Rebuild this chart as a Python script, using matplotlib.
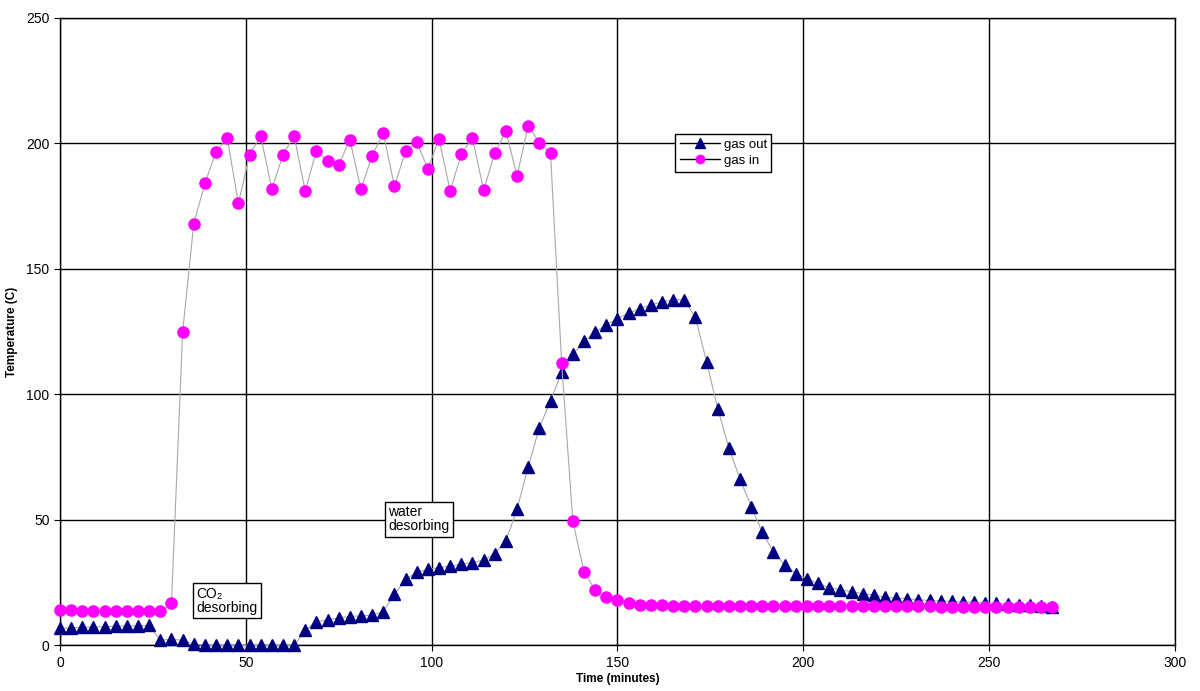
import matplotlib
matplotlib.use("Agg")
import matplotlib.pyplot as plt
from matplotlib.lines import Line2D

plt.rcParams['font.family'] = ['Liberation Sans', 'DejaVu Sans']

# sampling time, every 3 minutes
time = list(range(0, 268, 3))

gas_out = [6.8, 7.0, 7.2, 7.3, 7.5, 7.6, 7.7, 7.8, 8.0,
           2.0, 2.5, 2.0, 0.5,
           0, 0, 0, 0, 0, 0, 0, 0, 0,
           6.0, 9.3, 10.2, 11.0, 11.5, 11.8, 12.0, 13.5, 20.3, 26.3, 29.2, 30.3,
           31.0, 31.6, 32.4, 33.0, 34.0, 36.5, 41.7, 54.3, 71.2, 86.8, 97.4,
           108.8, 116.0, 121.1, 124.8, 127.8, 130.2, 132.4, 134.1, 135.7, 136.8,
           137.8, 137.7, 130.7, 113.0, 94.3, 78.7, 66.3, 55.3, 45.0, 37.2, 32.2,
           28.6, 26.6, 24.7, 23.0, 22.2, 21.4, 20.6, 20.1, 19.2, 18.9, 18.6, 18.2,
           17.9, 17.7, 17.5, 17.3, 17.1, 17.0, 16.7, 16.5, 16.2, 15.9, 15.6, 15.3]

gas_in = [14.0, 14.0, 13.9, 13.9, 13.8, 13.8, 13.8, 13.8, 13.8, 13.8,
          16.8, 124.8, 168.1, 184.1, 196.7, 202.3, 176.1, 195.4, 203.1, 181.8,
          195.4, 203.1, 181.0, 197.1, 193.0, 191.3, 201.5, 181.7, 195.1, 204.2,
          182.9, 197.1, 200.4, 190.0, 201.9, 181.0, 195.8, 202.2, 181.4, 196.1,
          204.9, 187.1, 207.1, 200.3, 196.0, 112.4, 49.6, 29.4, 22.0, 19.2,
          17.9, 16.7, 16.2, 16.0, 15.9, 15.8, 15.8, 15.7, 15.7, 15.6, 15.6,
          15.6, 15.5, 15.5, 15.5, 15.5, 15.5, 15.5, 15.5, 15.5, 15.5, 15.5,
          15.5, 15.5, 15.5, 15.5, 15.5, 15.5, 15.5, 15.4, 15.4, 15.4, 15.4,
          15.4, 15.4, 15.4, 15.3, 15.3, 15.3, 15.3]

fig = plt.figure(figsize=(12, 6.91), dpi=100)
ax = fig.add_axes([0.05, 0.066, 0.929, 0.908])

ax.plot(time, gas_out, color='#a8a8a8', lw=0.8, marker='^', ms=8.5,
        mfc='#000080', mec='#000080', zorder=3, clip_on=False)
ax.plot(time, gas_in, color='#a8a8a8', lw=0.8, marker='o', ms=8,
        mfc='#ff00ff', mec='#ff00ff', zorder=3, clip_on=False)

ax.set_xlim(0, 300)
ax.set_ylim(0, 250)
ax.set_xticks(range(0, 301, 50))
ax.set_yticks(range(0, 251, 50))
ax.grid(True, color='black', lw=1)
ax.set_axisbelow(True)
for s in ax.spines.values():
    s.set_color('black')
    s.set_linewidth(1)
ax.tick_params(direction='out', length=4, labelsize=10, colors='black')

ax.set_xlabel('Time (minutes)', fontsize=8.5, fontweight='bold', labelpad=2)
ax.set_ylabel('Temperature (C)', fontsize=8.5, fontweight='bold', labelpad=6)

handles = [Line2D([], [], color='black', lw=1, marker='^', ms=7,
                  mfc='#000080', mec='#000080'),
           Line2D([], [], color='black', lw=1, marker='o', ms=6,
                  mfc='#ff00ff', mec='#ff00ff')]
leg = ax.legend(handles, ['gas out', 'gas in'], loc='upper left',
                bbox_to_anchor=(0.552, 0.815), fontsize=9.5, frameon=True,
                fancybox=False, edgecolor='black', framealpha=1,
                borderpad=0.35, handlelength=3, handletextpad=0.3,
                labelspacing=0.3, borderaxespad=0)
leg.get_frame().set_linewidth(1)
leg.set_zorder(5)

box = dict(boxstyle='square,pad=0.25', fc='white', ec='black', lw=1)
ax.text(36.6, 23.3, 'CO₂\ndesorbing', fontsize=10, va='top', ha='left',
        bbox=box, linespacing=1.0, zorder=4)
ax.text(88.3, 55.8, 'water\ndesorbing', fontsize=10, va='top', ha='left',
        bbox=box, linespacing=1.0, zorder=4)

fig.savefig('out.png', dpi=100)
